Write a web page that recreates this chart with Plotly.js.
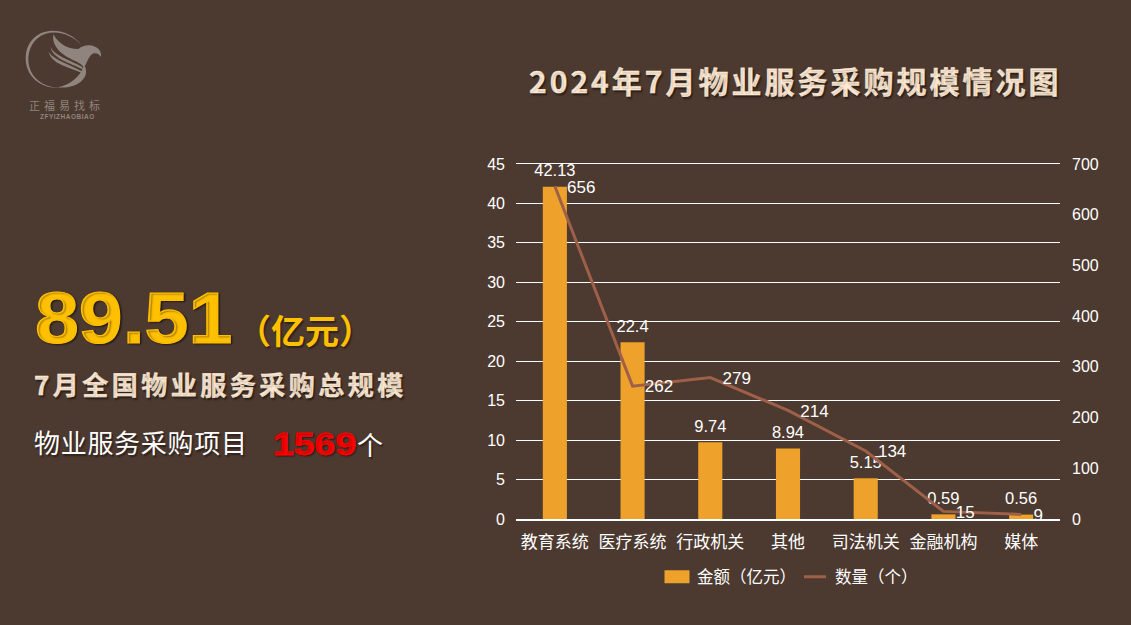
<!DOCTYPE html>
<html><head><meta charset="utf-8">
<script src="https://cdn.plot.ly/plotly-3.0.1.min.js"></script>
<style>html,body{margin:0;padding:0;background:#4c392f;overflow:hidden}#c{width:1131px;height:625px}
</style></head><body><div id="c"></div>
<script>
const categories=['教育系统','医疗系统','行政机关','其他','司法机关','金融机构','媒体'];
const amounts=[42.13,22.4,9.74,8.94,5.15,0.59,0.56];
const counts=[656,262,279,214,134,15,9];
const amountTicks=[0,5,10,15,20,25,30,35,40,45];
const countTicks=[0,100,200,300,400,500,600,700];
const chartTitle='2024年7月物业服务采购规模情况图';
const totalValue='89.51', totalUnit='（亿元）', totalCaption='7月全国物业服务采购总规模';
const projectLabel='物业服务采购项目', projectCount='1569', projectUnit='个';
const logoName='正福易找标', logoSub='ZFYIZHAOBIAO';

const CJK='"Noto Sans CJK SC","Liberation Sans",sans-serif', LAT='"Liberation Sans","Noto Sans CJK SC",sans-serif';
const W=1131,H=625,L=516,R=1060,T=164,B=519;
const px=x=>(x-L)/(R-L), py=y=>(B-y)/(B-T);
const logo=`<svg xmlns="http://www.w3.org/2000/svg" viewBox="0 0 255 210" width="255" height="210"><g fill="#8f857e" stroke="none">
<path d="M185 62 C160 25 110 8 70 22 C25 38 8 85 22 130 C35 170 80 195 125 188 C80 190 38 165 28 125 C18 85 35 42 75 27 C115 14 160 32 185 62Z"/>
<path d="M115 187 C150 178 178 158 190 125 L188 113 C210 140 195 170 160 182 C145 187 128 189 115 187Z"/>
<path d="M100 28 C115 55 140 72 175 72 C190 60 210 58 225 65 C238 70 245 82 243 96 C238 88 232 84 222 85 C212 88 205 100 197 120 L190 125 C175 105 125 100 105 60 C100 50 98 40 100 28Z"/>
<path d="M92 65 C100 90 150 105 186 125 L188 133 C150 113 95 100 92 65Z"/>
<path d="M86 80 C100 105 150 118 184 138 L185 143 C145 125 95 118 86 80Z"/>
</g></svg>`;
const logoSrc='data:image/svg+xml;utf8,'+encodeURIComponent(logo);
const ann=(x,y,text,size,color,bold,family,shadow)=>({xref:'paper',yref:'paper',x:px(x),y:py(y),text:bold?'<b>'+text+'</b>':text,showarrow:false,xanchor:'left',yanchor:'middle',align:'left',borderpad:0,font:{size,color,family,shadow:shadow||'none'}});
const sh='1.5px 1.5px 1.5px rgba(0,0,0,0.4)';

const traces=[
{type:'bar',name:'金额（亿元）',x:categories,y:amounts,width:0.31,marker:{color:'#efa22b'},text:amounts.map(String),textposition:'outside',constraintext:'none',cliponaxis:false,textfont:{size:16.5,color:'#fff',family:LAT},hoverinfo:'none'},
{type:'scatter',mode:'lines+markers+text',name:'数量（个）',x:categories,y:counts,yaxis:'y2',line:{color:'#9e6048',width:3},marker:{size:18,opacity:0,color:'#9e6048'},text:counts.map(String),textposition:'middle right',cliponaxis:false,textfont:{size:17,color:'#fff',family:LAT},hoverinfo:'none'}];
const layout={width:W,height:H,autosize:false,paper_bgcolor:'#4c392f',plot_bgcolor:'#4c392f',showlegend:true,bargap:0.69,
margin:{l:L,r:W-R,t:T,b:H-B,pad:0},
font:{family:CJK,color:'#fff'},
xaxis:{type:'category',categories,tickfont:{size:17,family:CJK,color:'#fff'},ticks:'',showgrid:false,showline:true,linecolor:'#fff',linewidth:1.5,ticklabelstandoff:7,automargin:false,fixedrange:true},
yaxis:{range:[0,45],tickvals:amountTicks,ticks:'',tickfont:{size:16,family:LAT,color:'#fff'},gridcolor:'#fff',gridwidth:1,showline:false,zeroline:false,ticklabelstandoff:10,automargin:false,fixedrange:true},
yaxis2:{range:[0,700],tickvals:countTicks,overlaying:'y',side:'right',ticks:'',tickfont:{size:16,family:LAT,color:'#fff'},showgrid:false,showline:false,zeroline:false,ticklabelstandoff:11,automargin:false,fixedrange:true},
legend:{orientation:'h',xref:'paper',yref:'paper',x:px(793),xanchor:'center',y:py(577),yanchor:'middle',font:{size:16.5,family:CJK,color:'#fff'},itemwidth:30,bgcolor:'rgba(0,0,0,0)'},
shapes:[{type:'line',xref:'paper',yref:'paper',x0:0,x1:1,y0:1.0014,y1:1.0014,line:{color:'#fff',width:1},layer:'below'}],
images:[{source:logoSrc,xref:'paper',yref:'paper',x:px(20),y:py(25),sizex:85/(R-L),sizey:70/(B-T),sizing:'stretch',xanchor:'left',yanchor:'top',layer:'below'}],
annotations:[
ann(528,80,chartTitle,30,'#fde9d4',true,CJK,sh),
ann(34,318,totalValue,72,'#ffc000',true,LAT,sh),
ann(236,329,totalUnit,34,'#ffc000',true,CJK,sh),
ann(33,383,totalCaption,26,'#fde9d4',true,CJK,sh),
ann(33,441,projectLabel,26,'#fff',false,CJK,sh),
ann(272,444,projectCount,32,'#ff0000',true,LAT,sh),
ann(356,443,projectUnit,26,'#fff',false,CJK,sh),
ann(28,105,logoName,11,'#8f857e',false,CJK),
ann(39,117,logoSub,6.5,'#8f857e',true,LAT)
]};
const spacing=[3,0,0,3.5,0.7,0,0,4,0.5];
const strokes=[0.4,1.2,0,0.4,0,0.8,0,0,0];
const stretch=[1,1.095,1,1,1,1.17,1,1,1];
const nudge=(sel,dy)=>document.querySelectorAll(sel).forEach(t=>{t.setAttribute('transform','translate(0,'+dy+') '+(t.getAttribute('transform')||''));});
Plotly.newPlot('c',traces,layout,{displayModeBar:false,staticPlot:true}).then(()=>{
  document.querySelectorAll('.annotation-text').forEach((t,i)=>{
    t.style.letterSpacing=spacing[i]+'px';
    if(strokes[i]){t.style.stroke=t.style.fill;t.style.strokeWidth=strokes[i]+'px';}
    if(stretch[i]!==1){const x=+t.getAttribute('x')||0;t.setAttribute('transform','translate('+x+',0) scale('+stretch[i]+',1) translate('+(-x)+',0)');}
  });
  nudge('.barlayer .bartext',-4.5);
  nudge('.scatterlayer .textpoint text',2);
  const items=document.querySelectorAll('.legend .traces');
  const bar=items[0].querySelector('.legendpoints path');
  if(bar)bar.setAttribute('d','M12.5,6.5H-12.5V-6.5H12.5Z');
  const it=items[1];
  it.querySelectorAll('.legendpoints path, .scatterpts path').forEach(p=>p.remove());
  const line=it.querySelector('.legendlines path');
  if(line)line.setAttribute('d','M9,0h22');
  const m=/translate\(([-\d.]+)[, ]+([-\d.]+)\)/.exec(it.getAttribute('transform')||'');
  if(m)it.setAttribute('transform','translate('+(+m[1]-6)+','+m[2]+')');
});
</script></body></html>
